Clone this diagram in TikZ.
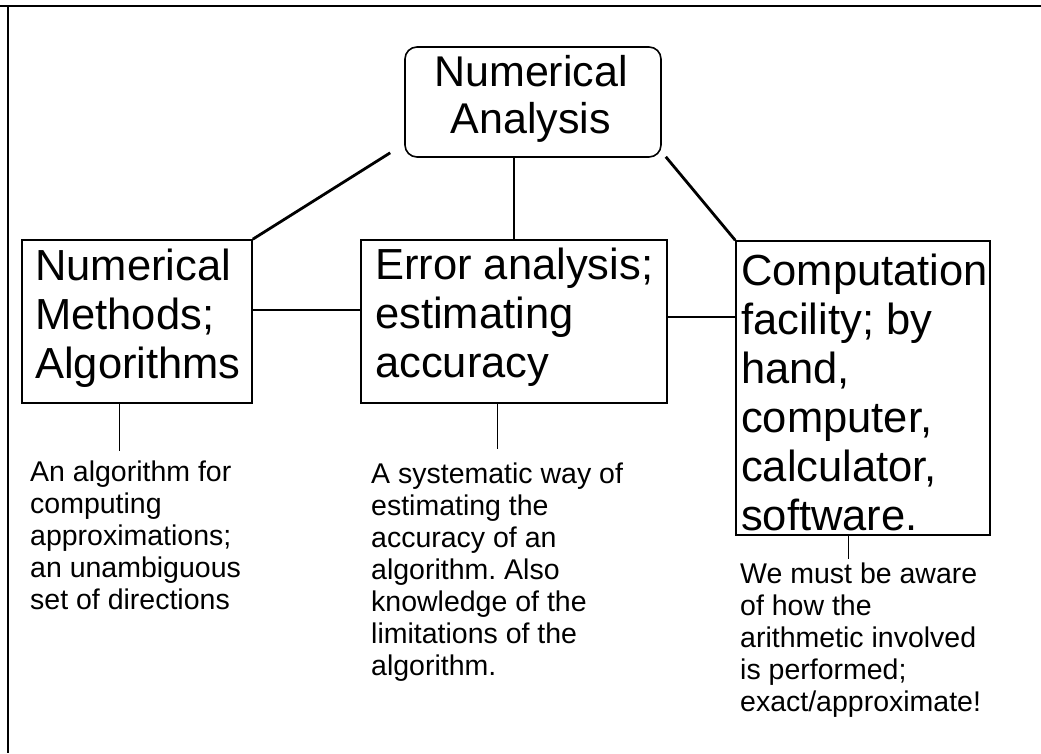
\documentclass[tikz,border=0pt]{standalone}
\usepackage{fontspec}
\setmainfont{Liberation Sans}
\frenchspacing
\begin{document}
\begin{tikzpicture}[x=1pt,y=-1pt,
  boxstyle/.style={draw=black, line width=1.6pt, inner sep=0pt},
  bigtext/.style={font=\fontsize{43.5}{49}\selectfont, align=left, inner sep=0pt, anchor=west},
  smalltext/.style={font=\fontsize{28.5}{32}\selectfont, align=left, inner sep=0pt, anchor=west},
  link/.style={line width=2.8pt},
  thinlink/.style={line width=1pt}]
\useasboundingbox (0,0) rectangle (1041,753);
\fill[white] (0,0) rectangle (1041,753);
% frame
\draw[line width=2.5pt] (0,6) -- (1041,6);
\draw[line width=1.5pt] (8,6) -- (8,753);
% boxes
\node[boxstyle, rounded corners=12pt, minimum width=256pt, minimum height=110pt] (top) at (533,102) {};
\node[boxstyle, minimum width=230pt, minimum height=163pt] (left) at (137,321.5) {};
\node[boxstyle, minimum width=306pt, minimum height=163pt] (mid) at (514,321.5) {};
\node[boxstyle, minimum width=254pt, minimum height=294pt] (right) at (863,388) {};
% box texts
\node[font=\fontsize{43}{47}\selectfont, align=center, inner sep=0pt] (toptext) at (531,98.5) {Numerical\\Analysis};
\node[bigtext] (lefttext) at (35,318) {Numerical\\Methods;\\Algorithms};
\node[bigtext] (midtext) at (375,317) {Error analysis;\\estimating\\accuracy};
\node[bigtext] (righttext) at (741,392) {Computation\\facility; by\\hand,\\computer,\\calculator,\\software.};
% annotations
\node[smalltext] (leftnote) at (30,535) {An algorithm for\\computing\\approximations;\\an unambiguous\\set of directions};
\node[smalltext] (midnote) at (371,572.5) {A systematic way of\\estimating the\\accuracy of an\\algorithm. Also\\knowledge of the\\limitations of the\\algorithm.};
\node[smalltext] (rightnote) at (740,640) {We must be aware\\of how the\\arithmetic involved\\is performed;\\exact/approximate!};
% connectors
\draw[link] ([xshift=-14pt,yshift=5pt]top.south west) -- (left.north east);
\draw[link] (mid.north) -- (mid.north |- top.south);
\draw[link] ([xshift=4pt,yshift=1pt]top.south east) -- (right.north west);
\draw[link] ([yshift=11.5pt]left.east) -- ([yshift=11.5pt]mid.west);
\draw[link] ([yshift=4.5pt]mid.east) -- ([yshift=4.5pt]mid.east -| right.west);
% thin drop lines
\draw[thinlink] ([xshift=-18pt]left.south) -- ++(0,47);
\draw[thinlink] ([xshift=-17pt]mid.south) -- ++(0,45);
\draw[thinlink] ([xshift=-15pt]right.south) -- ++(0,23);
\end{tikzpicture}
\end{document}
